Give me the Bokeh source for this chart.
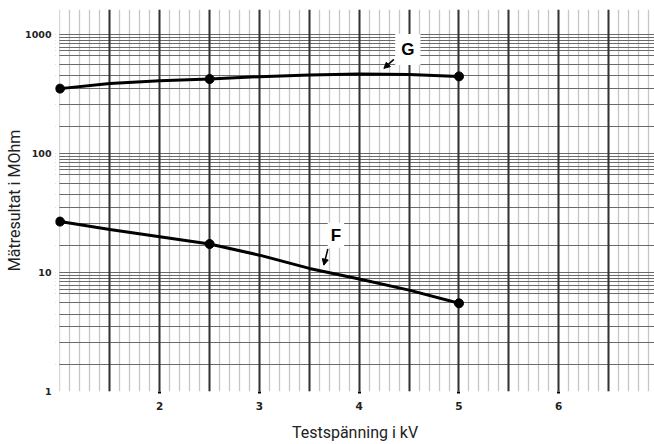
import math
from bokeh.plotting import figure
from bokeh.models import FixedTicker, Grid, Label, Arrow, NormalHead, Range1d, BoxAnnotation
from bokeh.embed import file_html
from bokeh.resources import INLINE

# ---- data ----
voltage_kv = [1.0, 1.5, 2.0, 2.5, 3.0, 3.5, 4.0, 4.5, 5.0]
curve_g = [349, 386, 407, 420, 440, 454, 462, 459, 442]
curve_f = [26.7, 22.9, 19.9, 17.3, 13.95, 10.8, 8.8, 7.1, 5.5]
measured_idx = [0, 3, 8]  # measured points (dots) at 1, 2.5 and 5 kV

x_ticks = [2, 3, 4, 5, 6]
x_labels = ["2", "3", "4", "5", "6"]
y_ticks = [1, 10, 100, 1000]
y_labels = ["1", "10", "100", "1000"]
# minor horizontal rulings inside each decade of the paper
paper_minor = [1.68, 2.59, 3.49, 4.47, 5.60, 6.68, 7.24, 7.76, 8.32, 8.91, 9.44]

x_title = "Testspänning i kV"
y_title = "Mätresultat i MOhm"

# ---- figure ----
W, H = 654, 444
p = figure(width=W, height=H, output_backend="svg", toolbar_location=None,
           y_axis_type="log", x_range=Range1d(0.955, 6.96), y_range=Range1d(1, 1611),
           min_border_left=55, min_border_right=0, min_border_top=9, min_border_bottom=52)
p.outline_line_color = None
p.background_fill_color = "white"
p.xgrid.grid_line_color = None
p.ygrid.grid_line_color = None

thin_x = [round(1.0 + 0.1 * i, 1) for i in range(60)]
thick_x = [round(1.5 + 0.5 * i, 1) for i in range(11)]
y_lines = []
for d in y_ticks:
    y_lines.append(d)
    if d < 1000:
        y_lines += [d * m for m in paper_minor]

p.add_layout(Grid(dimension=0, ticker=FixedTicker(ticks=thin_x),
                  grid_line_color="#c6c6c6", grid_line_width=1.3))
p.add_layout(Grid(dimension=1, ticker=FixedTicker(ticks=y_lines),
                  grid_line_color="#6a6a6a", grid_line_width=1))
p.add_layout(Grid(dimension=0, ticker=FixedTicker(ticks=thick_x),
                  grid_line_color="#333333", grid_line_width=2))
# blank strip left of the paper's edge (room for the first measured dot)
p.add_layout(BoxAnnotation(right=0.993, fill_color="white", fill_alpha=1,
                           line_color=None, level="underlay"))

# axes
p.xaxis.ticker = FixedTicker(ticks=x_ticks)
p.xaxis.major_label_overrides = dict(zip(x_ticks, x_labels))
p.yaxis.ticker = FixedTicker(ticks=y_ticks)
p.yaxis.major_label_overrides = dict(zip(y_ticks, y_labels))
for ax in (p.xaxis, p.yaxis):
    ax.axis_line_color = None
    ax.minor_tick_line_color = None
    ax.major_label_text_font = "DejaVu Sans"
    ax.major_label_text_font_style = "bold"
    ax.major_label_text_color = "#222222"
    ax.axis_label_text_font = "Roboto"
    ax.axis_label_text_font_style = "normal"
    ax.axis_label_text_font_size = "16px"
    ax.axis_label_text_color = "#222222"
p.xaxis.axis_label = x_title
p.yaxis.axis_label = y_title
p.xaxis.major_tick_line_color = "black"
p.xaxis.major_tick_line_width = 3
p.xaxis.major_tick_out = 2
p.xaxis.major_tick_in = 0
p.xaxis.major_label_standoff = 8
p.xaxis.major_label_text_font_size = "10.5px"
p.xaxis.axis_label_standoff = 10
p.yaxis.major_tick_line_color = None
p.yaxis.major_tick_out = 0
p.yaxis.major_tick_in = 0
p.yaxis.major_label_standoff = 4
p.yaxis.major_label_text_font_size = "9.5px"
p.yaxis.axis_label_standoff = -2

# curves
p.line(voltage_kv, curve_g, line_color="black", line_width=3)
p.line(voltage_kv, curve_f, line_color="black", line_width=3)
p.scatter([voltage_kv[i] for i in measured_idx], [curve_g[i] for i in measured_idx],
          size=9, color="black")
p.scatter([voltage_kv[i] for i in measured_idx], [curve_f[i] for i in measured_idx],
          size=9, color="black")

# curve labels with arrows
p.add_layout(Label(x=4.487, y=745, text="G", text_align="center", text_baseline="middle",
                   text_font="Liberation Sans", text_font_style="bold", text_font_size="17px",
                   text_color="black", background_fill_color="white", padding=6))
p.add_layout(Arrow(end=NormalHead(size=6, fill_color="black", line_color="black"),
                   x_start=4.347, y_start=614, x_end=4.247, y_end=516,
                   line_color="black", line_width=1.5))
p.add_layout(Label(x=3.766, y=20.5, text="F", text_align="center", text_baseline="middle",
                   text_font="Liberation Sans", text_font_style="bold", text_font_size="17px",
                   text_color="black", background_fill_color="white", padding=3))
p.add_layout(Arrow(end=NormalHead(size=6, fill_color="black", line_color="black"),
                   x_start=3.685, y_start=15.7, x_end=3.645, y_end=11.5,
                   line_color="black", line_width=1.5))

open("out.html", "w").write(file_html(p, INLINE))
